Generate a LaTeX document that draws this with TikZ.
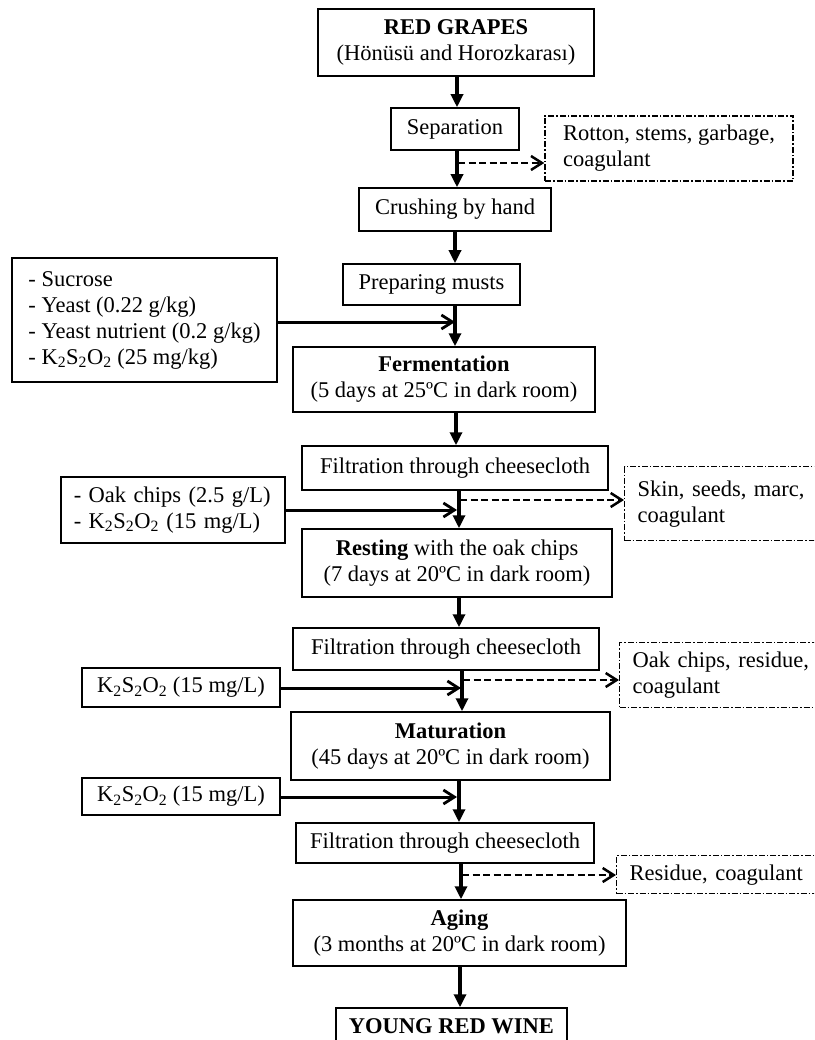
\documentclass[tikz,border=0pt]{standalone}
\usepackage{fontspec}
\setmainfont{Liberation Serif}
\usetikzlibrary{arrows.meta}
\begin{document}
\begin{tikzpicture}[x=1pt,y=-1pt,
  every node/.style={font=\fontsize{22.5}{26}\selectfont},
  box/.style={draw, line width=1.5pt, inner sep=0pt, align=center},
  lbox/.style={draw, line width=1.5pt, inner sep=0pt, align=left},
  dbox/.style={draw, line width=1.4pt, inner sep=0pt, align=left,
     dash pattern=on 6pt off 2pt on 1.5pt off 2pt},
  varr/.style={line width=3.2pt, -{Triangle[length=13pt,width=12pt]}},
  harr/.style={line width=3pt, -{Straight Barb[length=11pt,width=14pt,line width=2.8pt]}},
  darr/.style={line width=2.8pt, dash pattern=on 7pt off 3.5pt, -{Straight Barb[length=11pt,width=14pt,line width=2.5pt]}}
]
\useasboundingbox (0,0) rectangle (814,1040);
\clip (0,0) rectangle (814,1040);

% main column
\node[box, minimum width=276pt, minimum height=67pt] (grapes) at (456,42.5) {\textbf{RED GRAPES}\\(Hönüsü and Horozkarası)};
\node[box, minimum width=128pt, minimum height=42pt] (sep) at (455,129) {Separation};
\node[box, minimum width=192pt, minimum height=43pt] (crush) at (455,209.5) {Crushing by hand};
\node[box, minimum width=177pt, minimum height=41pt] (prep) at (431.5,284.5) {Preparing musts};
\node[box, minimum width=302pt, minimum height=65pt] (ferm) at (444,379.5) {\textbf{Fermentation}\\(5 days at 25ºC in dark room)};
\node[box, minimum width=306pt, minimum height=44pt] (filt1) at (455,468) {Filtration through cheesecloth};
\node[box, minimum width=310pt, minimum height=68pt] (rest) at (457,563) {\textbf{Resting} with the oak chips\\(7 days at 20ºC in dark room)};
\node[box, minimum width=306pt, minimum height=42pt] (filt2) at (446,649) {Filtration through cheesecloth};
\node[box, minimum width=319pt, minimum height=68pt] (mat) at (450.5,746) {\textbf{Maturation}\\(45 days at 20ºC in dark room)};
\node[box, minimum width=298pt, minimum height=40pt] (filt3) at (445,843) {Filtration through cheesecloth};
\node[box, minimum width=333pt, minimum height=66pt] (aging) at (459.5,933) {\textbf{Aging}\\(3 months at 20ºC in dark room)};
\node[box, minimum width=231pt, minimum height=36pt] (young) at (451.5,1026) {\textbf{YOUNG RED WINE}};

% inputs
\node[lbox, minimum width=265pt, minimum height=124pt] (sucr) at (144.5,320) {- Sucrose\\- Yeast (0.22 g/kg)\\- Yeast nutrient (0.2 g/kg)\\- K\textsubscript{2}S\textsubscript{2}O\textsubscript{2} (25 mg/kg)};
\node[lbox, anchor=north west, text width=198pt, inner xsep=13pt, minimum height=66pt] (oak) at (60,476) {- Oak chips (2.5 g/L)\\- K\textsubscript{2}S\textsubscript{2}O\textsubscript{2} (15 mg/L)};
\node[lbox, minimum width=198pt, minimum height=39pt] (k1) at (181,687.5) {K\textsubscript{2}S\textsubscript{2}O\textsubscript{2} (15 mg/L)};
\node[lbox, minimum width=198pt, minimum height=37pt] (k2) at (181,796.5) {K\textsubscript{2}S\textsubscript{2}O\textsubscript{2} (15 mg/L)};

% outputs
\node[dbox, minimum width=248pt, minimum height=65pt] (rot) at (669,148.5) {Rotton, stems, garbage,\\coagulant};
\node[dbox, anchor=north west, text width=190pt, inner xsep=13pt, minimum height=74pt] (skin) at (624,466) {Skin, seeds, marc,\\coagulant};
\node[dbox, anchor=north west, text width=190pt, inner xsep=13pt, minimum height=65pt] (oakres) at (619,642) {Oak chips, residue,\\coagulant};
\node[dbox, anchor=north west, text width=190pt, inner xsep=13pt, minimum height=38pt] (resid) at (616,855) {Residue, coagulant};

% axis coordinates
\coordinate (x1) at (457,0);
\coordinate (x2) at (455,0);
\coordinate (x3) at (456,0);
\coordinate (x4) at (459,0);
\coordinate (x5) at (462,0);
\coordinate (x6) at (461,0);
\coordinate (x7) at (460,0);

\draw[varr] (grapes.south -| x1) -- (sep.north -| x1);
\draw[varr] (sep.south -| x1) -- (crush.north -| x1);
\draw[varr] (crush.south -| x2) -- (prep.north -| x2);
\draw[varr] (prep.south -| x2) -- (ferm.north -| x2);
\draw[varr] (ferm.south -| x3) -- (filt1.north -| x3);
\draw[varr] (filt1.south -| x4) -- (rest.north -| x4);
\draw[varr] (rest.south -| x4) -- (filt2.north -| x4);
\draw[varr] (filt2.south -| x5) -- (mat.north -| x5);
\draw[varr] (mat.south -| x4) -- (filt3.north -| x4);
\draw[varr] (filt3.south -| x6) -- (aging.north -| x6);
\draw[varr] (aging.south -| x7) -- (young.north -| x7);

% junction points
\coordinate (j1) at (455,322);
\coordinate (j2) at (457,510);
\coordinate (j3) at (461,688);
\coordinate (j4) at (457,797);
\coordinate (d1) at (458,163);
\coordinate (d2) at (460,500);
\coordinate (d3) at (463,680);
\coordinate (d4) at (462,875);

\draw[harr] (sucr.east |- j1) -- (j1);
\draw[harr] (oak.east |- j2) -- (j2);
\draw[harr] (k1.east |- j3) -- (j3);
\draw[harr] (k2.east |- j4) -- (j4);

\draw[darr] (d1) -- (rot.west |- d1);
\draw[darr] (d2) -- (skin.west |- d2);
\draw[darr] (d3) -- (oakres.west |- d3);
\draw[darr] (d4) -- (resid.west |- d4);
\end{tikzpicture}
\end{document}
